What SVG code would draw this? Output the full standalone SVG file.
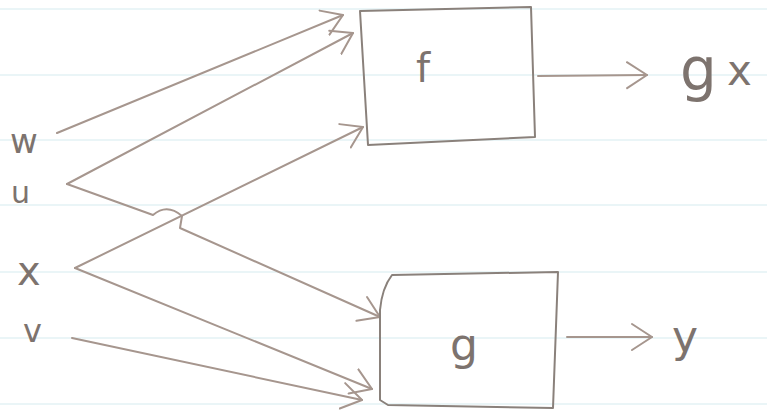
<svg xmlns="http://www.w3.org/2000/svg" width="767" height="419" viewBox="0 0 767 419">
<style>
.rule{stroke:#e3f2f4;stroke-width:1.5}
.conn{fill:none;stroke:#a6968e;stroke-width:2;stroke-linecap:round;stroke-linejoin:round}
.box{fill:none;stroke:#8a817b;stroke-width:2;stroke-linejoin:round}
.lbl{font-family:"DejaVu Sans","Liberation Sans",sans-serif;fill:#7d736e}
</style>
<defs>
<marker id="ah" viewBox="0 0 22 30" refX="21" refY="15" markerWidth="22" markerHeight="30" markerUnits="userSpaceOnUse" orient="auto">
<path d="M1,2 L21,15 L1,28" fill="none" stroke="#a6968e" stroke-width="2" stroke-linecap="round" stroke-linejoin="round"/>
</marker>
</defs>
<rect width="767" height="419" fill="#ffffff"/>
<g id="paper">
<line class="rule" x1="0" y1="9" x2="767" y2="9"/>
<line class="rule" x1="0" y1="75" x2="767" y2="75"/>
<line class="rule" x1="0" y1="140" x2="767" y2="140"/>
<line class="rule" x1="0" y1="205" x2="767" y2="205"/>
<line class="rule" x1="0" y1="272" x2="767" y2="272"/>
<line class="rule" x1="0" y1="338" x2="767" y2="338"/>
<line class="rule" x1="0" y1="404" x2="767" y2="404"/>
</g>
<g id="connectors">
<path class="conn" d="M57,133 L343,15" marker-end="url(#ah)"/>
<path class="conn" d="M67,184 L353,33" marker-end="url(#ah)"/>
<path class="conn" d="M67,184 L153,215 Q167,203 182,216 L180,228 L380,317" marker-end="url(#ah)"/>
<path class="conn" d="M75,268 L363,127" marker-end="url(#ah)"/>
<path class="conn" d="M75,268 L372,389" marker-end="url(#ah)"/>
<path class="conn" d="M72,338 L362,400" marker-end="url(#ah)"/>
<path class="conn" d="M538,76 L647,75" marker-end="url(#ah)"/>
<path class="conn" d="M567,337 L652,337" marker-end="url(#ah)"/>
</g>
<g id="in-w"><text class="lbl" x="10" y="153" font-size="34">w</text></g>
<g id="in-u"><text class="lbl" x="11" y="203" font-size="30">u</text></g>
<g id="in-x"><text class="lbl" x="17" y="285" font-size="40">x</text></g>
<g id="in-v"><text class="lbl" x="23" y="342" font-size="32">v</text></g>
<g id="node-f">
<path class="box" d="M360,11 L531,7 L535,137 L368,145 Q364,80 360,11 Z"/>
<text class="lbl" x="423" y="82" font-size="40" text-anchor="middle">f</text>
</g>
<g id="node-g">
<path class="box" d="M392,275 L558,272 L553,408 L388,405 L380,400 L380,310 Q382,288 392,275 Z"/>
<text class="lbl" x="464" y="360" font-size="44" text-anchor="middle">g</text>
</g>
<g id="out-gx">
<text class="lbl" x="680" y="90" font-size="58">g</text>
<text class="lbl" x="727" y="85" font-size="42">x</text>
</g>
<g id="out-y"><text class="lbl" x="672" y="352" font-size="44">y</text></g>
</svg>
